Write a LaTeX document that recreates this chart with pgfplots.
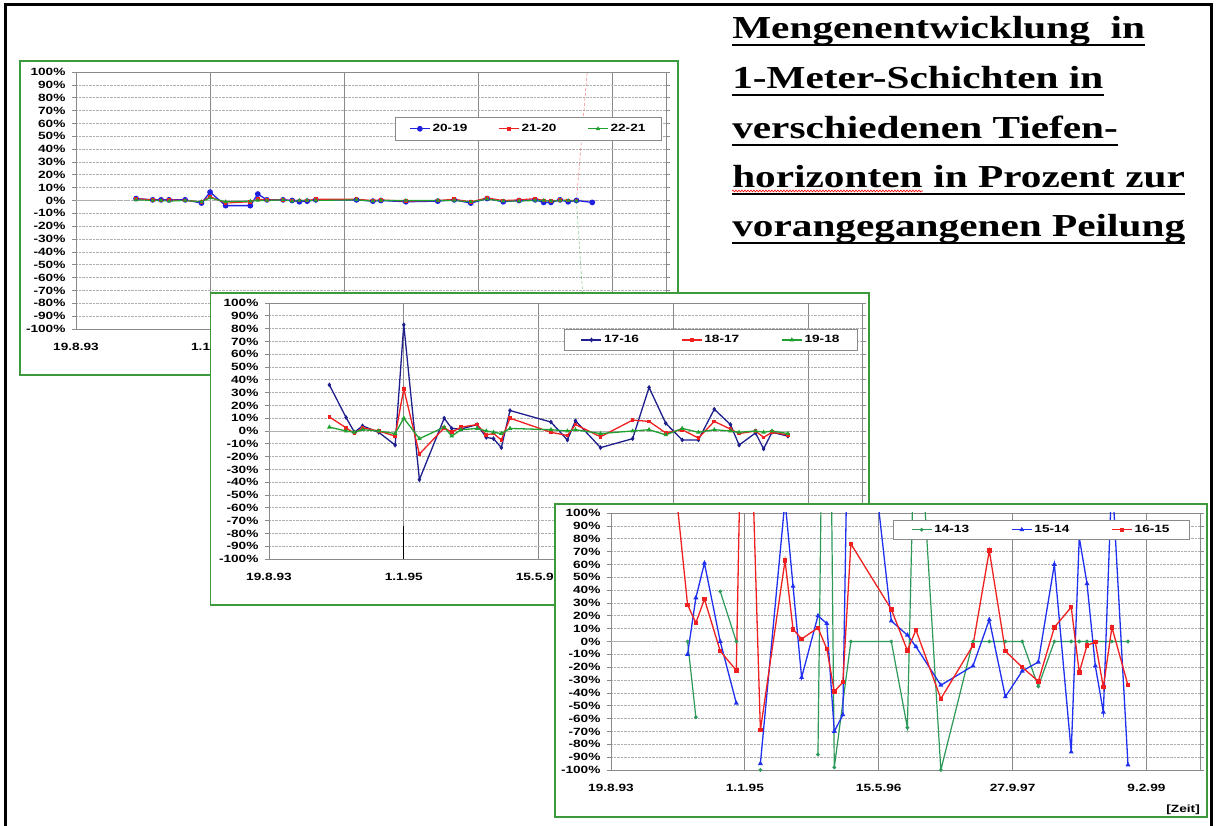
\documentclass[border=0pt]{standalone}
\usepackage{fontspec}
\setmainfont{Liberation Sans}
\newfontfamily\titlefont{Liberation Serif}
\usepackage{graphicx}
\usepackage{pgfplots}
\pgfplotsset{compat=1.18}
\usetikzlibrary{decorations.pathmorphing}
\definecolor{pgreen}{HTML}{3C9A3C}
\definecolor{gridv}{HTML}{8A8A8A}
\definecolor{gridh}{HTML}{B0B0B0}
\definecolor{navy1}{HTML}{1E1E8C}
\definecolor{blue1}{HTML}{2020E0}
\definecolor{red1}{HTML}{F02020}
\definecolor{green1}{HTML}{20A030}
\definecolor{green3}{HTML}{2E9A5A}
\definecolor{blue3}{HTML}{2030F0}
\newcommand\sx[1]{\scalebox{1.3}[1]{#1}}
\newcommand\tlf{\fontsize{10.5}{12}\selectfont\bfseries}

\pgfplotsset{
  panel/.style={
    scale only axis, anchor=south west,
    xmin=0, xmax=2200, ymin=-100, ymax=100,
    xtick={0,500,1000,1500,2000},
    xticklabels={\sx{19.8.93},\sx{1.1.95},\sx{15.5.96},\sx{27.9.97},\sx{9.2.99}},
    ytick={-100,-90,...,100},
    yticklabels={\sx{-100\%},\sx{-90\%},\sx{-80\%},\sx{-70\%},\sx{-60\%},\sx{-50\%},\sx{-40\%},\sx{-30\%},\sx{-20\%},\sx{-10\%},\sx{0\%},\sx{10\%},\sx{20\%},\sx{30\%},\sx{40\%},\sx{50\%},\sx{60\%},\sx{70\%},\sx{80\%},\sx{90\%},\sx{100\%}},
    axis line style={gridv, line width=0.8pt},
    xmajorgrids, ymajorgrids,
    x grid style={gridv, line width=0.8pt},
    y grid style={gridh, densely dotted, line width=0.6pt},
    xtick style={draw=none},
    ytick style={gridv, line width=0.6pt},
    tick align=outside, major tick length=4pt,
    tick label style={font=\tlf},
    yticklabel style={xshift=-3pt},
    xticklabel style={yshift=-7pt},
    extra y ticks={0}, extra y tick labels={},
    extra y tick style={ytick style={draw=none}, grid=major, major grid style={black!70, line width=1.3pt}},
    unbounded coords=jump,
    legend columns=3,
    legend cell align=left,
    legend image code/.code={
      \draw[mark repeat=2,mark phase=2,##1] plot coordinates {(0pt,0pt) (10pt,0pt) (20pt,0pt)};},
    legend style={draw=gridv, line width=0.8pt, font=\tlf, inner xsep=12pt, inner ysep=4pt},
  },
}

\begin{document}
\begin{tikzpicture}
\path[use as bounding box] (0pt,0pt) rectangle (1216pt,825pt);
\fill[white] (0pt,0pt) rectangle (1216pt,825pt);
\draw[line width=3pt] (5pt,-2pt) -- (5pt,820pt) -- (1211pt,820pt) -- (1211pt,-2pt);

% ---------- title ----------
\begin{scope}[every node/.style={anchor=base west, inner sep=0pt, font=\titlefont\bfseries\fontsize{32}{38}\selectfont, xscale=1.29}]
\node (t1) at (732pt,786pt) {Mengenentwicklung\ \ in};
\node (t2) at (732pt,736pt) {1-Meter-Schichten in};
\node (t3) at (732pt,686pt) {verschiedenen Tiefen-};
\node (t4a) at (732pt,637pt) {horizonten};
\node (t4b) at (t4a.base east) {\ in Prozent zur};
\node (t5) at (732pt,588pt) {vorangegangenen Peilung};
\end{scope}
\foreach \a/\b in {t1/t1,t2/t2,t3/t3,t4a/t4b,t5/t5}{
  \draw[line width=2.6pt] ([yshift=-6pt]\a.base west) -- ([yshift=-6pt]\b.base east);
}
\draw[red, line width=0.6pt, decorate, decoration={snake, amplitude=0.9pt, segment length=3pt}]
  ([yshift=-3pt]t4a.base west) -- ([yshift=-3pt]t4a.base east);

% ---------- panel 1 ----------
\draw[pgreen, line width=1.5pt, fill=white] (20pt,450pt) rectangle (678pt,764pt);
\begin{axis}[panel, at={(76pt,496pt)}, width=590pt, height=257pt,
  xticklabels={\sx{19.8.93},\sx{1.1.95},{},{},{}},
  legend style={at={(0.993,0.825)}, anchor=north east, inner xsep=14pt, inner ysep=5pt,
    /tikz/every even column/.append style={column sep=29pt}}]
\addplot[blue1, line width=1.3pt, mark=*, mark size=2.2pt] coordinates {
(224,1.5) (286,0.5) (317,0.5) (347,0.5) (407,0.5) (468,-2) (500,6.5) (558,-4) (650,-4) (678,5) (712,0.5) (772,0.5) (806,0) (833,-1) (862,-0.5) (894,0.5) (1046,0.5) (1107,-0.5) (1137,0) (1230,-1) (1349,-0.5) (1410,0.5) (1472,-2) (1533,1.5) (1593,-1) (1652,0) (1712,0.5) (1744,-1.5) (1771,-1.5) (1805,0.5) (1835,-1) (1866,0) (1925,-1.5)};
\addlegendentry{\sx{20-19}}
\addplot[red1, line width=1.1pt, mark=square*, mark size=1.3pt] coordinates {
(224,1.5) (286,0.5) (317,0) (347,0.5) (407,0) (468,-1) (500,3) (558,-2) (650,-1) (678,1) (712,0.5) (772,0.5) (806,0) (833,0) (862,0) (894,1) (1046,1) (1107,0) (1137,0.5) (1230,-0.5) (1349,0) (1410,1) (1472,-1) (1533,2) (1593,0) (1652,0.5) (1712,1.5) (1744,0) (1771,-0.5) (1805,0.5) (1835,0) (1866,0)};
\addlegendentry{\sx{21-20}}
\addplot[green1, line width=1.1pt, mark=triangle*, mark size=1.4pt] coordinates {
(224,0.5) (286,0) (317,0) (347,-0.5) (407,0) (468,-1) (500,2) (558,-1) (650,-0.5) (678,0) (712,0) (772,0.5) (806,-0.5) (833,0) (862,0) (894,0) (1046,0.5) (1107,-0.5) (1137,0) (1230,0) (1349,0) (1410,0) (1472,-1) (1533,1) (1593,-0.5) (1652,-0.5) (1712,0) (1744,0) (1771,-0.5) (1805,0) (1835,0) (1866,-0.5)};
\addlegendentry{\sx{22-21}}
\addplot[red1, line width=0.5pt, densely dashed, opacity=0.6, forget plot] coordinates {(1866,0) (1925,147)};
\addplot[green1, line width=0.5pt, densely dashed, opacity=0.6, forget plot] coordinates {(1866,-0.5) (1925,-184)};
\end{axis}

% ---------- panel 2 ----------
\draw[pgreen, line width=1.5pt, fill=white] (210.5pt,220pt) rectangle (869pt,532pt);
\begin{axis}[panel, at={(269pt,266pt)}, width=593pt, height=256pt,
  xticklabels={\sx{19.8.93},\sx{1.1.95},\sx{15.5.96},{},{}},
  legend style={at={(0.993,0.898)}, anchor=north east, inner xsep=16pt, inner ysep=4pt,
    /tikz/every even column/.append style={column sep=40pt}}]
\addplot[navy1, line width=1.3pt, mark=diamond*, mark size=1.4pt] coordinates {
(224,36) (286,10.5) (317,-1) (347,4) (407,-1) (468,-11) (500,83) (558,-38) (650,10) (678,2) (712,1.5) (772,5) (806,-5) (833,-6) (862,-13) (894,16) (1046,7) (1107,-7) (1137,8) (1230,-13) (1349,-6) (1410,34) (1472,6) (1533,-7) (1593,-7) (1652,17) (1712,5) (1744,-11) (1805,-1.5) (1835,-14) (1866,-1) (1925,-4)};
\addlegendentry{\sx{17-16}}
\addplot[red1, line width=1.3pt, mark=square*, mark size=1.2pt] coordinates {
(224,11) (286,2.5) (317,-2) (347,2.5) (407,0) (468,-4) (500,33) (558,-18) (650,2.5) (678,-1) (712,3) (772,5) (806,-3) (833,-2) (862,-7) (894,10) (1046,-1) (1107,-3.5) (1137,5) (1230,-4.5) (1349,8.5) (1410,7.5) (1472,-1.5) (1533,1) (1593,-5.5) (1652,7.5) (1712,1.5) (1744,-2) (1805,0) (1835,-5) (1866,-1) (1925,-3)};
\addlegendentry{\sx{18-17}}
\addplot[green1, line width=1.3pt, mark=triangle*, mark size=1.4pt] coordinates {
(224,3) (286,0) (317,-1) (347,1) (407,0) (468,-2) (500,10) (558,-6) (650,3) (678,-4) (712,1) (772,2) (806,0) (833,-1) (862,-2) (894,2) (1046,1) (1107,0) (1137,1) (1230,-2) (1349,0) (1410,1) (1472,-3) (1533,2) (1593,-1) (1652,1) (1712,0) (1744,-1) (1805,0) (1835,-1) (1866,0) (1925,-2)};
\addlegendentry{\sx{19-18}}
\addplot[black, line width=1.2pt, forget plot] coordinates {(500,-74) (500,-100)};
\end{axis}

% ---------- panel 3 ----------
\draw[pgreen, line width=1.5pt, fill=white] (555pt,8pt) rectangle (1207pt,321pt);
\begin{axis}[panel, at={(611pt,55pt)}, width=589pt, height=257pt,
  legend style={at={(0.983,0.973)}, anchor=north east, inner xsep=18pt, inner ysep=3pt,
    /tikz/every even column/.append style={column sep=40pt}}]
\addplot[green3, line width=1.2pt, mark=*, mark size=1.2pt] coordinates {
(286,0) (317,-59) (360,nan) (408,39) (468,0) (520,nan) (558,-100) (600,nan) (773,-88) (806,480) (834,-98) (896,0) (1047,0) (1107,-67) (1139,220) (1232,-100) (1352,0) (1413,0) (1473,0) (1536,0) (1596,-35) (1656,0) (1719,0) (1749,0) (1778,0) (1809,0) (1871,0) (1931,0)};
\addlegendentry{\sx{14-13}}
\addplot[blue3, line width=1.3pt, mark=triangle*, mark size=1.6pt] coordinates {
(286,-10) (317,34) (349,61) (408,0) (468,-48) (520,nan) (558,-95) (650,110) (680,43) (712,-28) (773,20) (806,14) (834,-70) (866,-57) (894,300) (1047,16) (1107,5) (1139,-4) (1232,-34) (1352,-19) (1413,17) (1473,-43) (1536,-23) (1596,-16) (1656,60) (1719,-86) (1749,81) (1778,45) (1809,-19) (1839,-55) (1871,130) (1931,-96)};
\addlegendentry{\sx{15-14}}
\addplot[red1, line width=1.3pt, mark=square*, mark size=1.6pt] coordinates {
(224,155) (286,28.5) (317,14.5) (349,33) (408,-7.5) (468,-22.5) (500,330) (558,-69) (650,63) (680,9.5) (712,2) (773,10.6) (806,-5.7) (834,-39) (866,-31.6) (896,76) (1047,25) (1107,-7) (1139,9) (1232,-44.6) (1352,-3) (1413,70.7) (1473,-7.5) (1536,-20) (1596,-31) (1656,11) (1719,26.7) (1749,-24) (1778,-3) (1809,-0.5) (1839,-35.5) (1871,11) (1931,-34)};
\addlegendentry{\sx{16-15}}
\end{axis}
\node[anchor=east, inner sep=0pt, font=\tlf] at (1200pt,15pt) {\sx{[Zeit]}};
\end{tikzpicture}
\end{document}
